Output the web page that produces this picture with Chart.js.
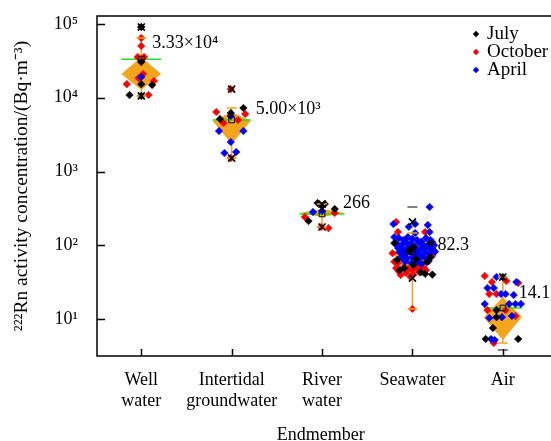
<!DOCTYPE html>
<html>
<head>
<meta charset="utf-8">
<script src="https://cdn.jsdelivr.net/npm/chart.js"></script>
<style>
  html, body { margin: 0; padding: 0; background: #fff; }
  #wrap { width: 551px; height: 441px; position: relative; }
</style>
</head>
<body>
<div id="wrap"><canvas id="rnChart"></canvas></div>
<script>
// categories along x (position 1..5)
const categories = [['Well', 'water'], ['Intertidal', 'groundwater'], ['River', 'water'], ['Seawater'], ['Air']];
const months = ['July', 'October', 'April'];
const yTicks = [10, 100, 1000, 10000, 100000];

// summary stats per endmember (Bq/m3)
const means = [33300, 5000, 266, 82.3, 14.1];
const meanLabels = ['3.33×10⁴', '5.00×10³', '266', '82.3', '14.1'];
const q3 = [35700, 6410, 310, 129, 19.9];
const median = [21000, 4840, 274, 78, 10.6];
const q1 = [12700, 2360, 242, 37, 5.19];
const whiskerLo = [10600, 1520, 177, 13.7, 4.73];
const whiskerHi = [64600, 7260, 362, 147, 37.1];
const pctHigh = [91000, 13100, 362, 207, 37.1];
const pctLow = [10600, 1520, 177, 35.9, null];
const maxMark = [null, null, null, 330, null];
const minMark = [null, null, null, null, 3.8];

// individual samples: [x position (category + jitter), value]
const julyPts = [
  [1.00, 91000], [1.00, 30500], [1.00, 15300], [1.12, 14900], [0.87, 10900], [1.00, 10600],
  [2.13, 7260], [1.99, 6210], [1.87, 5150],
  [2.95, 374], [3.03, 362], [3.00, 340], [3.14, 310], [2.85, 213],
  [3.80, 107], [3.98, 86], [4.01, 94], [4.20, 107], [4.20, 69], [4.16, 59], [3.86, 46], [3.91, 49],
  [4.09, 43], [4.14, 41], [4.01, 54], [3.96, 84], [4.04, 65], [3.83, 63], [4.22, 40],
  [4.93, 13.2], [4.93, 10.6], [4.89, 7.55], [4.81, 5.36], [5.17, 5.36], [5.00, 37.1]
];
const octoberPts = [
  [1.00, 91000], [1.00, 64600], [1.00, 50300], [0.96, 35700], [1.03, 35700], [1.02, 21000],
  [0.97, 18500], [0.84, 15300], [1.14, 16900], [1.08, 10900],
  [1.99, 13100], [1.83, 6410], [2.15, 6020], [2.07, 4990], [1.91, 4540], [1.99, 1520],
  [2.81, 242], [3.14, 274], [2.99, 177], [3.07, 171],
  [3.82, 207], [3.84, 151], [4.14, 151], [3.78, 78], [3.80, 60], [3.84, 57], [3.90, 50], [3.95, 48],
  [4.00, 46], [4.05, 49], [4.10, 52], [4.15, 46], [3.85, 44], [3.93, 42], [4.01, 40], [4.08, 43],
  [3.87, 39.5], [3.98, 37], [4.12, 50], [4.17, 63], [4.22, 72], [3.82, 49], [4.03, 54], [3.89, 66],
  [4.00, 13.7], [4.21, 86],
  [4.80, 38.3], [5.04, 32.7], [4.88, 31.7], [5.17, 30.8], [4.85, 21.8], [4.93, 21.8], [4.83, 13.2],
  [5.03, 13.2], [5.14, 11.0], [4.90, 4.73]
];
const aprilPts = [
  [1.00, 19100],
  [1.99, 5660], [1.86, 3540], [2.13, 3540], [1.99, 2510], [1.92, 1780], [2.05, 1840],
  [3.00, 291], [2.90, 282],
  [4.19, 330], [4.03, 194], [3.79, 194], [4.17, 188], [4.19, 151], [4.03, 147], [3.96, 178],
  [3.80, 129], [3.85, 125], [3.90, 118], [3.95, 129], [4.00, 122], [4.05, 118], [4.10, 112], [4.15, 125],
  [4.20, 118], [3.82, 107], [3.88, 101], [3.93, 110], [3.98, 104], [4.02, 98], [4.08, 107], [4.12, 101],
  [4.18, 104], [4.22, 110], [3.84, 92], [3.90, 88], [3.96, 95], [4.01, 90], [4.06, 86], [4.11, 92],
  [4.16, 95], [4.21, 88], [3.86, 80], [3.92, 76], [3.97, 82], [4.04, 78], [4.09, 74], [4.14, 80],
  [4.19, 76], [3.88, 70], [3.94, 66], [4.00, 69], [4.06, 64], [4.12, 70], [4.17, 66], [3.92, 60],
  [3.99, 57], [4.05, 59], [4.10, 56], [4.18, 61], [4.24, 100], [4.25, 82],
  [4.93, 37.1], [5.15, 31.7], [4.83, 26.3], [4.90, 26.3], [4.98, 21.8], [5.03, 21.8], [5.12, 21.2],
  [4.80, 16.0], [5.07, 16.0], [5.14, 16.0], [5.20, 16.0], [4.85, 10.3], [4.99, 10.6], [5.10, 11.0],
  [4.87, 5.36], [4.91, 5.19]
];

// styles
const ORANGE = '#F3A51B';
const GREEN = '#22E022';
const monthColors = ['#000000', '#FF0000', '#0000FF'];
const boxHalf = [0.22, 0.21, 0.25, 0.22, 0.21];
const labelOffset = [[11, -16], [24, -11], [21, -11], [25, -6], [16, -15]];
const SERIF = '"Liberation Serif", "Times New Roman", serif';
const supDigits = { '0': '⁰', '1': '¹', '2': '²', '3': '³', '4': '⁴', '5': '⁵' };

const toXY = pts => pts.map(p => ({ x: p[0], y: p[1] }));
const perCat = arr => arr.map((v, i) => (v == null ? null : { x: i + 1, y: v })).filter(Boolean);

const datasets = [];

// whiskers, diamonds and mean lines for each endmember
categories.forEach((c, i) => {
  const x = i + 1;
  const w = boxHalf[i];
  datasets.push({
    type: 'line', data: [{ x: x, y: whiskerLo[i] }, { x: x, y: whiskerHi[i] }],
    borderColor: ORANGE, borderWidth: 1.5, pointRadius: 0, fill: false, order: 10
  });
  // upper half of diamond, then lower half filled up to it
  datasets.push({
    type: 'line', data: [{ x: x - w, y: median[i] }, { x: x, y: q3[i] }, { x: x + w, y: median[i] }],
    borderColor: 'rgba(0,0,0,0)', borderWidth: 0, pointRadius: 0, fill: false, order: 9
  });
  datasets.push({
    type: 'line', data: [{ x: x - w, y: median[i] }, { x: x, y: q1[i] }, { x: x + w, y: median[i] }],
    borderColor: 'rgba(0,0,0,0)', borderWidth: 0, pointRadius: 0,
    backgroundColor: ORANGE, fill: '-1', order: 9
  });
  datasets.push({
    type: 'line', data: [{ x: x - w, y: means[i] }, { x: x + w, y: means[i] }],
    borderColor: GREEN, borderWidth: 1.6, pointRadius: 0, fill: false, order: 8
  });
});

// samples by month
[julyPts, octoberPts, aprilPts].forEach((pts, m) => {
  datasets.push({
    type: 'scatter', label: months[m], data: toXY(pts),
    pointStyle: 'rectRot', pointRadius: 3.8, borderWidth: 0.5,
    backgroundColor: monthColors[m], borderColor: monthColors[m],
    order: [5, 7, 6][m]
  });
});

// whisker caps
datasets.push({
  type: 'scatter',
  data: perCat(whiskerLo).concat(perCat(whiskerHi)),
  pointStyle: 'line', pointRadius: 5, borderWidth: 1.5, borderColor: ORANGE, order: 4
});
// min / max dashes
datasets.push({
  type: 'scatter', data: perCat(maxMark).concat(perCat(minMark)),
  pointStyle: 'line', pointRadius: 5, borderWidth: 1.2, borderColor: '#000', order: 3
});
// 1st / 99th percentile crosses
datasets.push({
  type: 'scatter', data: perCat(pctHigh).concat(perCat(pctLow)),
  pointStyle: 'crossRot', pointRadius: 5, borderWidth: 1.6, borderColor: '#000', order: 2
});
// mean squares
datasets.push({
  type: 'scatter', data: perCat(means),
  pointStyle: 'rect', pointRadius: 4, borderWidth: 1, borderColor: '#000',
  backgroundColor: 'rgba(0,0,0,0)', order: 1
});

// frame, inward ticks, legend and mean labels
const decorPlugin = {
  id: 'decor',
  afterDraw(chart) {
    const { ctx, chartArea: a, scales } = chart;
    ctx.save();
    ctx.strokeStyle = '#000';
    ctx.lineWidth = 1.5;
    ctx.beginPath();
    ctx.moveTo(chart.width, a.top); ctx.lineTo(a.left, a.top);
    ctx.lineTo(a.left, a.bottom); ctx.lineTo(chart.width, a.bottom);
    yTicks.forEach(v => {
      const y = Math.round(scales.y.getPixelForValue(v)) + 0.5;
      ctx.moveTo(a.left, y); ctx.lineTo(a.left + 8, y);
    });
    categories.forEach((c, i) => {
      const x = Math.round(scales.x.getPixelForValue(i + 1)) + 0.5;
      ctx.moveTo(x, a.bottom); ctx.lineTo(x, a.bottom - 7);
    });
    ctx.stroke();

    // mean value labels
    ctx.fillStyle = '#000';
    ctx.font = '18px ' + SERIF;
    ctx.textAlign = 'left';
    ctx.textBaseline = 'middle';
    meanLabels.forEach((t, i) => {
      const x = scales.x.getPixelForValue(i + 1) + labelOffset[i][0];
      const y = scales.y.getPixelForValue(means[i]) + labelOffset[i][1];
      ctx.fillText(t, x, y);
    });

    // legend
    ctx.font = '19px ' + SERIF;
    months.forEach((mName, m) => {
      const y = a.top + 18 + m * 18;
      const x = 476;
      ctx.fillStyle = monthColors[m];
      ctx.beginPath();
      ctx.moveTo(x, y - 3.2); ctx.lineTo(x + 3.2, y); ctx.lineTo(x, y + 3.2); ctx.lineTo(x - 3.2, y);
      ctx.closePath(); ctx.fill();
      ctx.fillStyle = '#000';
      ctx.fillText(mName, x + 11, y);
    });
    ctx.restore();
  }
};

new Chart(document.getElementById('rnChart'), {
  type: 'scatter',
  data: { datasets: datasets },
  options: {
    responsive: true,
    maintainAspectRatio: false,
    animation: false,
    events: [],
    layout: { padding: { top: 16, right: 0, bottom: 0, left: 0 } },
    plugins: {
      legend: { display: false },
      tooltip: { enabled: false }
    },
    elements: { line: { tension: 0 } },
    scales: {
      x: {
        type: 'linear', min: 0.51, max: 5.46,
        afterBuildTicks: scale => { scale.ticks = categories.map((c, i) => ({ value: i + 1 })); },
        afterFit: scale => { scale.height = 85; scale.paddingLeft = 0; scale.paddingRight = 0; },
        grid: { display: false, drawTicks: false },
        border: { display: false },
        ticks: {
          autoSkip: false, maxRotation: 0, padding: 13, color: '#000',
          font: { family: SERIF, size: 18 },
          callback: v => categories[Math.round(v) - 1]
        },
        title: {
          display: true, text: 'Endmember', color: '#000',
          font: { family: SERIF, size: 18, lineHeight: 0.66 },
          padding: { top: 0, bottom: 0 }
        }
      },
      y: {
        type: 'logarithmic', min: 3.152, max: 128400,
        afterBuildTicks: scale => { scale.ticks = yTicks.map(v => ({ value: v })); },
        afterFit: scale => { scale.width = 97; scale.paddingTop = 0; scale.paddingBottom = 0; },
        grid: { display: false, drawTicks: false },
        border: { display: false },
        ticks: {
          padding: 19, color: '#000',
          font: { family: SERIF, size: 18 },
          callback: v => '10' + supDigits[String(Math.round(Math.log10(v)))]
        },
        title: {
          display: true, text: '²²²Rn activity concentration/(Bq·m⁻³)', color: '#000',
          font: { family: SERIF, size: 19.5 },
          padding: { top: 10, bottom: 0 }
        }
      }
    }
  },
  plugins: [decorPlugin]
});
</script>
</body>
</html>
